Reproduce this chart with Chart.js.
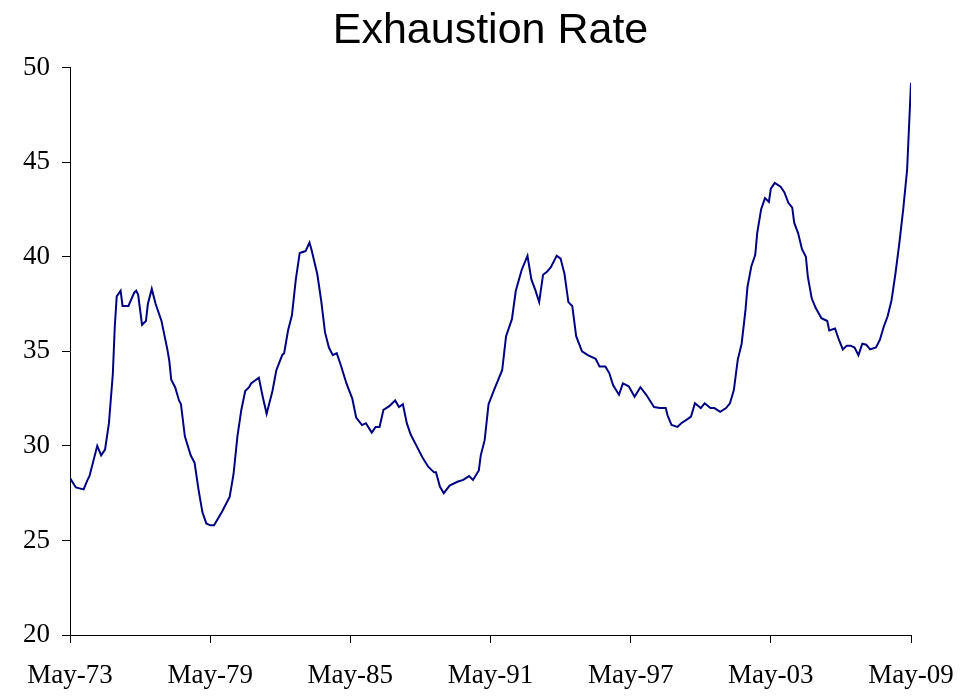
<!DOCTYPE html>
<html lang="en">
<head>
    <meta charset="UTF-8">
    <title>Exhaustion Rate</title>
    <script src="https://cdn.jsdelivr.net/npm/chart.js"></script>
    <style>
        body {
            margin: 0;
            background-color: #fff;
        }

        #wrap {
            width: 975px;
            height: 697px;
        }
    </style>
</head>
<body>
    <div id="wrap">
        <canvas id="rateChart"></canvas>
    </div>
    <script>
        // months counted from May-73
        const months = [0, 3, 7, 9, 10, 14, 16, 18, 20, 22, 23, 24, 26, 27, 30, 33, 34, 35, 37, 39,
            40, 42, 44, 47, 50, 51, 52, 54, 56, 57, 59, 62, 64, 66, 68, 70, 72, 74, 78, 80,
            82, 84, 86, 88, 90, 92, 93, 97, 99, 101, 104, 106, 109, 110, 112, 114, 116, 118, 121, 123,
            124, 127, 129, 131, 133, 135, 137, 139, 142, 145, 147, 150, 152, 155, 157, 159, 161, 164, 167, 169,
            171, 173, 175, 178, 181, 184, 187, 188, 190, 192, 195, 199, 202, 205, 207, 210, 211, 213, 215, 218,
            222, 224, 227, 229, 232, 235, 237, 239, 241, 243, 245, 247, 250, 252, 254, 256, 258, 260, 263, 266,
            270, 272, 275, 277, 279, 282, 284, 287, 290, 293, 296, 300, 303, 306, 307, 309, 312, 314, 317, 319,
            321, 324, 326, 329, 331, 334, 337, 339, 341, 343, 345, 347, 348, 350, 352, 353, 355, 357, 359, 360,
            362, 365, 367, 369, 371, 372, 374, 376, 378, 379, 381, 383, 386, 389, 390, 393, 395, 397, 399, 401,
            403, 405, 407, 409, 411, 414, 416, 418, 420, 422, 424, 426, 428, 430, 431, 432];

        const rates = [28.3, 27.8, 27.7, 28.2, 28.4, 30.0, 29.5, 29.8, 31.2, 33.8, 36.3, 37.9, 38.2, 37.4, 37.4, 38.1, 38.2, 38.0, 36.4, 36.6,
            37.5, 38.3, 37.5, 36.6, 35.1, 34.5, 33.5, 33.1, 32.4, 32.2, 30.5, 29.5, 29.1, 27.7, 26.5, 25.9, 25.8, 25.8, 26.5, 26.9,
            27.3, 28.5, 30.5, 31.9, 32.9, 33.1, 33.3, 33.6, 32.6, 31.7, 32.9, 34.0, 34.8, 34.9, 36.1, 36.9, 38.8, 40.2, 40.3, 40.75,
            40.4, 39.1, 37.7, 36.0, 35.2, 34.8, 34.9, 34.3, 33.3, 32.5, 31.5, 31.1, 31.2, 30.7, 31.0, 31.0, 31.9, 32.1, 32.4, 32.05,
            32.2, 31.2, 30.6, 30.0, 29.4, 28.9, 28.6, 28.6, 27.85, 27.5, 27.9, 28.1, 28.2, 28.4, 28.2, 28.7, 29.5, 30.3, 32.2, 33.0,
            34.0, 35.8, 36.7, 38.2, 39.3, 40.05, 38.8, 38.25, 37.6, 39.05, 39.2, 39.45, 40.05, 39.9, 39.1, 37.6, 37.4, 35.8, 35.0, 34.8,
            34.6, 34.2, 34.2, 33.85, 33.2, 32.7, 33.3, 33.15, 32.6, 33.1, 32.7, 32.05, 32.0, 32.0, 31.6, 31.1, 31.0, 31.2, 31.4, 31.55,
            32.25, 32.0, 32.25, 32.0, 32.0, 31.8, 32.0, 32.25, 32.95, 34.55, 35.4, 37.2, 38.4, 39.5, 40.1, 41.25, 42.5, 43.1, 42.9, 43.6,
            43.9, 43.7, 43.4, 42.85, 42.6, 41.8, 41.25, 40.4, 40.0, 38.95, 37.8, 37.3, 36.75, 36.6, 36.1, 36.2, 35.6, 35.1, 35.3, 35.3,
            35.2, 34.8, 35.4, 35.35, 35.1, 35.2, 35.6, 36.3, 36.85, 37.7, 39.1, 40.7, 42.5, 44.6, 46.9, 49.2];

        const xTickMonths = [0, 72, 144, 216, 288, 360, 432];
        const xTickLabels = ['May-73', 'May-79', 'May-85', 'May-91', 'May-97', 'May-03', 'May-09'];
        const yTicks = [20, 25, 30, 35, 40, 45, 50];

        const points = months.map((m, i) => ({ x: m, y: rates[i] }));
        const serif = "'Liberation Serif', 'Times New Roman', serif";

        new Chart(document.getElementById('rateChart'), {
            type: 'line',
            data: {
                datasets: [{
                    label: 'Exhaustion Rate',
                    data: points,
                    borderColor: '#000080',
                    borderWidth: 2,
                    pointRadius: 0,
                    tension: 0
                }]
            },
            options: {
                responsive: true,
                maintainAspectRatio: false,
                animation: false,
                layout: {
                    padding: { left: 0, right: 64, bottom: 0 }
                },
                plugins: {
                    legend: { display: false },
                    tooltip: { enabled: false },
                    title: {
                        display: true,
                        fullSize: false,
                        text: 'Exhaustion Rate',
                        color: '#000',
                        font: { family: "'Liberation Sans', Arial, sans-serif", size: 43, weight: 'normal' },
                        padding: { top: 5, bottom: 11 }
                    }
                },
                scales: {
                    x: {
                        type: 'linear',
                        min: 0,
                        max: 432,
                        afterBuildTicks: (axis) => {
                            axis.ticks = xTickMonths.map(v => ({ value: v }));
                        },
                        afterFit: (axis) => {
                            axis.height = 62;
                        },
                        ticks: {
                            color: '#000',
                            font: { family: serif, size: 27 },
                            padding: 17,
                            maxRotation: 0,
                            autoSkip: false,
                            callback: (val, i) => xTickLabels[i]
                        },
                        grid: { display: true, drawOnChartArea: false, drawTicks: true, tickLength: 8, color: '#000' },
                        border: { display: true, color: '#000', width: 1 }
                    },
                    y: {
                        min: 20,
                        max: 50,
                        afterBuildTicks: (axis) => {
                            axis.ticks = yTicks.map(v => ({ value: v }));
                        },
                        afterFit: (axis) => {
                            axis.width = 70;
                        },
                        ticks: {
                            color: '#000',
                            font: { family: serif, size: 27 },
                            padding: 12
                        },
                        grid: { display: true, drawOnChartArea: false, drawTicks: true, tickLength: 8, color: '#000' },
                        border: { display: true, color: '#000', width: 1 }
                    }
                }
            }
        });
    </script>
</body>
</html>
